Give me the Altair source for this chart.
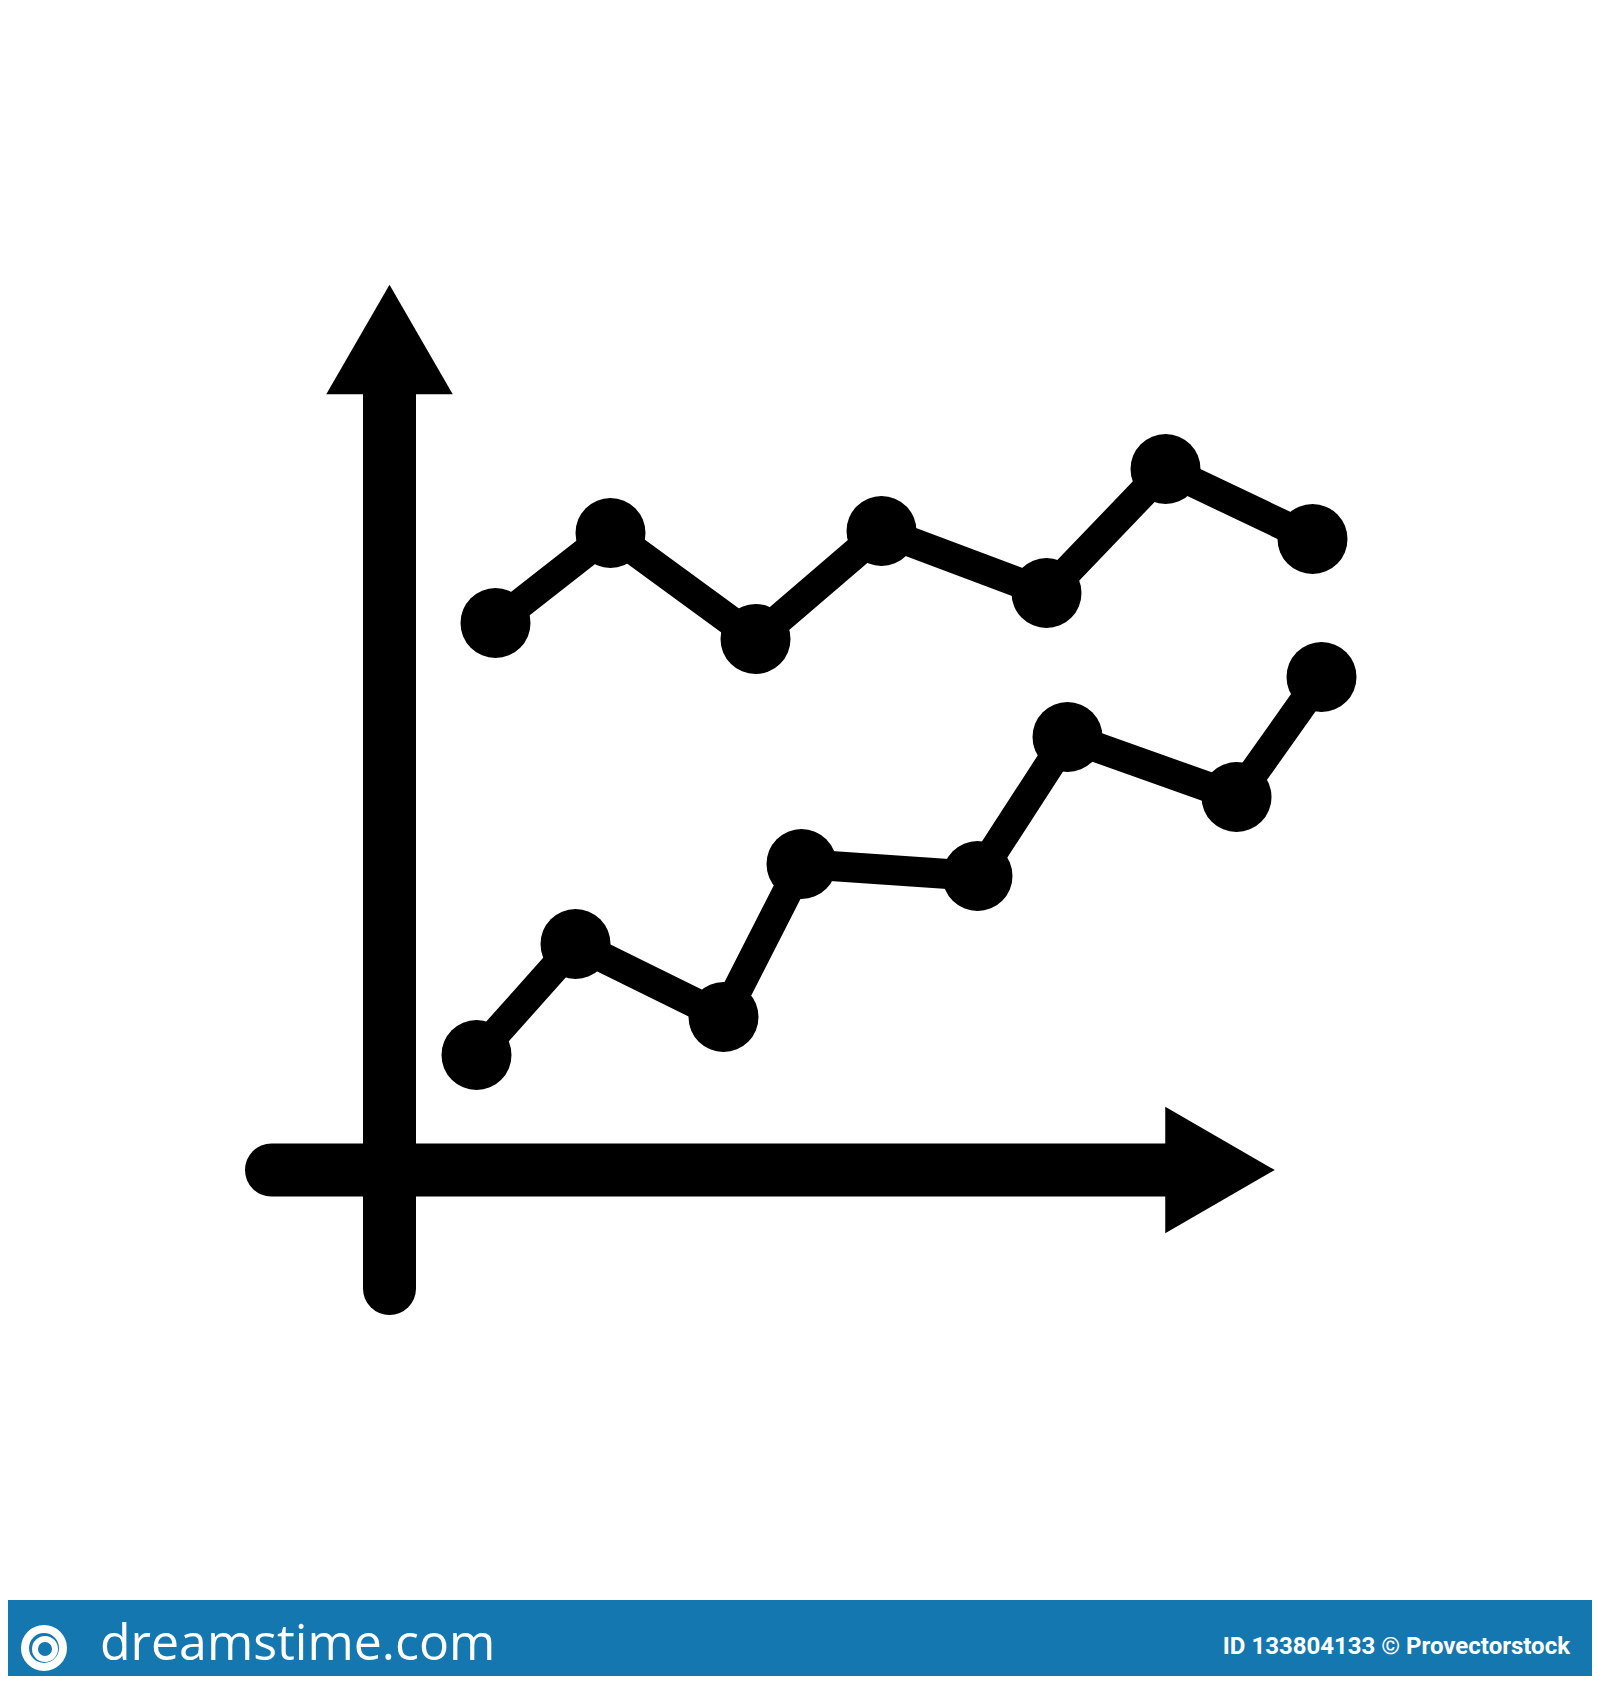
import altair as alt
import pandas as pd

# Two series, in chart units (origin where the two axis arrows cross)
upper_x = [1.06, 2.21, 3.66, 4.92, 6.57, 7.76, 9.23]
upper_y = [5.47, 6.37, 5.31, 6.39, 5.77, 7.01, 6.31]
lower_x = [0.87, 1.86, 3.34, 4.12, 5.88, 6.78, 8.47, 9.32]
lower_y = [1.15, 2.26, 1.53, 3.06, 2.94, 4.33, 3.73, 4.93]

# axis arrows: shaft start, shaft end, arrow head centre
axis_name = ["x", "y"]
axis_start = [-1.18, -1.185]
axis_end = [7.9, 7.9]
axis_head = [8.305, 8.305]

banner_left = "dreamstime.com"
banner_right = "ID 133804133 © Provectorstock"

W, H = 1584, 1668
x_dom = [-3.815, 12.025]
y_dom = [-5.06, 11.62]

xs = alt.Scale(domain=x_dom, nice=False, zero=False)
ys = alt.Scale(domain=y_dom, nice=False, zero=False)

series = pd.DataFrame({
    "x": upper_x + lower_x,
    "y": upper_y + lower_y,
    "series": ["upper"] * len(upper_x) + ["lower"] * len(lower_x),
})
series["order"] = series.groupby("series").cumcount()

axes = pd.DataFrame({
    "axis": axis_name,
    "x": [axis_start[0], 0.0],
    "x2": [axis_end[0], 0.0],
    "y": [0.0, axis_start[1]],
    "y2": [0.0, axis_end[1]],
})
heads = pd.DataFrame({
    "x": [axis_head[0], 0.0],
    "y": [0.0, axis_head[1]],
    "shape": ["triangle-right", "triangle-up"],
})

X = lambda f: alt.X(f, type="quantitative", scale=xs, axis=None)
Y = lambda f: alt.Y(f, type="quantitative", scale=ys, axis=None)

shafts = alt.Chart(axes).mark_rule(
    strokeWidth=53, strokeCap="round", color="black"
).encode(x=X("x"), x2="x2", y=Y("y"), y2="y2")

arrowheads = alt.Chart(heads).mark_point(
    filled=True, opacity=1, color="black", strokeWidth=0
).encode(
    x=X("x"), y=Y("y"),
    shape=alt.Shape("shape:N", scale=None),
    size=alt.value(16000),
)

lines = alt.Chart(series).mark_line(
    strokeWidth=30, color="black", strokeJoin="round"
).encode(x=X("x"), y=Y("y"), detail="series:N", order="order:Q")

dots = alt.Chart(series).mark_circle(size=4900, opacity=1, color="black").encode(
    x=X("x"), y=Y("y")
)

one = pd.DataFrame({"k": [0]})

banner = alt.Chart(one).mark_rect(color="#1577b0").encode(
    x=alt.value(-8), x2=alt.value(W), y=alt.value(1592), y2=alt.value(H)
)

logo_outer = alt.Chart(one).mark_point(
    shape="circle", filled=False, color="white", strokeWidth=8, opacity=1
).encode(x=alt.value(36), y=alt.value(1640), size=alt.value(1444))

logo_inner = alt.Chart(one).mark_point(
    shape="circle", filled=False, color="white", strokeWidth=6, opacity=1
).encode(x=alt.value(37), y=alt.value(1641), size=alt.value(400))

left_text = alt.Chart(one).mark_text(
    text=banner_left, font="Open Sans", fontSize=50, color="white",
    align="left", baseline="alphabetic"
).encode(x=alt.value(92), y=alt.value(1652))

right_text = alt.Chart(one).mark_text(
    text=banner_right, font="Roboto", fontWeight="bold", fontSize=24,
    color="white", align="right", baseline="alphabetic"
).encode(x=alt.value(1562), y=alt.value(1646))

chart = alt.layer(
    shafts, arrowheads, lines, dots,
    banner, logo_outer, logo_inner, left_text, right_text
).properties(
    width=W, height=H, padding=0,
    autosize=alt.AutoSizeParams(type="none"),
    background="white",
).configure_view(stroke=None)

chart.save("out.html", embed_options={"renderer": "svg", "actions": False})
